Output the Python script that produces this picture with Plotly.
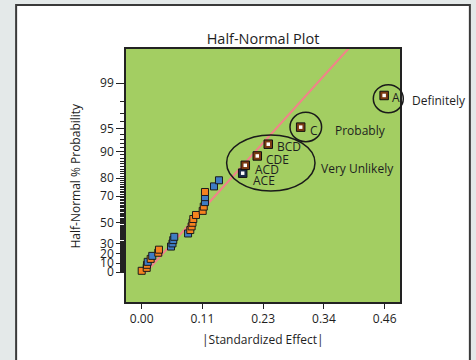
import plotly.graph_objects as go
from statistics import NormalDist

# ---------------- data ----------------
# unlabeled effects: |standardized effect| and half-normal % probability
effect_vals = [0.000, 0.0095, 0.0100, 0.0114, 0.0170, 0.0200, 0.0314, 0.0327,
               0.0555, 0.0583, 0.0598, 0.0617, 0.0878, 0.0920, 0.0945, 0.0962,
               0.0977, 0.1028, 0.1155, 0.1175, 0.1198, 0.1198, 0.1198, 0.1369, 0.1463]
prob_vals = [1.6, 4.8, 8.1, 11.3, 14.5, 17.7, 21.0, 24.2, 27.4, 30.6, 33.9, 37.1,
             40.3, 43.5, 46.8, 50.0, 53.2, 56.5, 59.7, 62.9, 66.1, 69.4, 72.6, 75.8, 79.0]
sign_vals = ["pos", "pos", "pos", "neg", "pos", "neg", "pos", "pos",
             "neg", "neg", "neg", "neg", "neg", "pos", "pos", "pos",
             "pos", "pos", "pos", "pos", "neg", "neg", "pos", "neg", "neg"]

# labeled (significant) terms
term_names = ["ACE", "ACD", "CDE", "BCD", "C", "A"]
term_effects = [0.1912, 0.1961, 0.2188, 0.2396, 0.301, 0.459]
term_probs = [82.3, 85.5, 88.7, 91.9, 95.2, 98.4]
term_signs = ["neg", "pos", "pos", "pos", "pos", "pos"]

# reference line
line_effect = [0.008, 0.397]
line_prob = [0.0, 99.8]

# axis ticks
x_tick_vals = [0.0, 0.115, 0.23, 0.345, 0.46]
x_tick_text = ["0.00", "0.11", "0.23", "0.34", "0.46"]
y_major = [0, 10, 20, 30, 50, 70, 80, 90, 95, 99]

# ---------------- helpers ----------------
nd = NormalDist()


def hn(p):
    """half-normal quantile for a percentage probability"""
    return nd.inv_cdf(0.5 + p / 200.0)


FILL = {"pos": "#f5821f", "neg": "#3f7cc4"}
RING = {"pos": "#7c3a12", "neg": "#1c2d4a"}
TXT = "#1e1e1e"
BG = "#e4e9e9"
FONT = "Open Sans, Noto Sans, sans-serif"

fig = go.Figure()

# reference line
fig.add_trace(go.Scatter(
    x=line_effect, y=[hn(p) for p in line_prob], mode="lines",
    line=dict(color="#f2828a", width=2), hoverinfo="skip"))

# unlabeled effects
fig.add_trace(go.Scatter(
    x=effect_vals, y=[hn(p) for p in prob_vals], mode="markers",
    marker=dict(symbol="square", size=7, color=[FILL[s] for s in sign_vals],
                line=dict(color="#1b1b1b", width=1))))

# labeled effects: outer ring + white center
fig.add_trace(go.Scatter(
    x=term_effects, y=[hn(p) for p in term_probs], mode="markers",
    marker=dict(symbol="square", size=8.5, color=[RING[s] for s in term_signs],
                line=dict(color="#111111", width=1))))
fig.add_trace(go.Scatter(
    x=term_effects, y=[hn(p) for p in term_probs], mode="markers",
    marker=dict(symbol="square", size=3.5, color="white", line=dict(width=0))))

annotations = []
label_offsets = {"A": (6, -2), "C": (7, -3), "BCD": (7, -2),
                 "CDE": (7, -4), "ACD": (8, -4), "ACE": (8, -7)}
for name, ex, pr in zip(term_names, term_effects, term_probs):
    dx, dy = label_offsets[name]
    annotations.append(dict(x=ex, y=hn(pr), xref="x", yref="y", text=name,
                            showarrow=False, xanchor="left", yanchor="middle",
                            xshift=dx, yshift=dy,
                            font=dict(family=FONT, size=12, color=TXT)))

# group labels (paper coordinates so they may sit outside the plot area)
group_labels = [("Definitely", 1.0365, 0.7957), ("Probably", 0.7566, 0.6798),
                ("Very Unlikely", 0.7044, 0.5257)]
for txt, gx, gy in group_labels:
    annotations.append(dict(x=gx, y=gy, xref="paper", yref="paper", text=txt,
                            showarrow=False, xanchor="left", yanchor="middle",
                            font=dict(family=FONT, size=12, color=TXT)))

# axis titles
annotations.append(dict(x=0.5, y=-0.150, xref="paper", yref="paper",
                        text="|Standardized Effect|", showarrow=False,
                        xanchor="center", yanchor="middle",
                        font=dict(family=FONT, size=12, color=TXT)))
annotations.append(dict(x=-0.186, y=0.5, xref="paper", yref="paper",
                        text="Half-Normal % Probability", showarrow=False,
                        textangle=-90, xanchor="center", yanchor="middle",
                        font=dict(family=FONT, size=12, color=TXT)))

shapes = [
    # white panel with dark frame
    dict(type="rect", xref="paper", yref="paper", x0=-0.401, x1=1.255,
         y0=-0.26, y1=1.174, fillcolor="white",
         line=dict(color="#3a3a3a", width=2), layer="below"),
    # green plot area
    dict(type="rect", xref="paper", yref="paper", x0=0, x1=1, y0=0, y1=1,
         fillcolor="#a3ce62", line=dict(width=0), layer="below"),
    # ellipses
    dict(type="circle", xref="paper", yref="paper", x0=0.9026, x1=1.012,
         y0=0.748, y1=0.859, line=dict(color="#1a1a1a", width=1.5)),
    dict(type="circle", xref="paper", yref="paper", x0=0.5985, x1=0.7139,
         y0=0.6336, y1=0.7498, line=dict(color="#1a1a1a", width=1.5)),
    dict(type="circle", xref="paper", yref="paper", x0=0.3672, x1=0.6898,
         y0=0.4387, y1=0.6601, line=dict(color="#1a1a1a", width=1.5)),
]

fig.update_layout(
    width=476, height=360,
    margin=dict(l=126, r=76, t=49, b=58),
    paper_bgcolor=BG, plot_bgcolor="rgba(0,0,0,0)",
    showlegend=False,
    font=dict(family=FONT, size=12, color=TXT),
    title=dict(text="Half-Normal Plot", x=0.5, xref="paper", xanchor="center",
               y=1 - 39 / 360, yref="container", yanchor="middle",
               font=dict(family=FONT, size=14.5, color=TXT)),
    annotations=annotations,
    shapes=shapes,
)

fig.update_xaxes(range=[-0.0297, 0.489], tickmode="array",
                 tickvals=x_tick_vals, ticktext=x_tick_text,
                 ticks="outside", ticklen=5, tickcolor="#222", tickwidth=1,
                 showline=True, linecolor="#222", linewidth=1.5, mirror=True,
                 showgrid=False, zeroline=False,
                 tickfont=dict(family=FONT, size=12, color=TXT))

minor_vals = [hn(p) for p in range(1, 99) if p not in y_major]
fig.update_yaxes(range=[-0.405, 3.042], tickmode="array",
                 tickvals=[hn(p) for p in y_major],
                 ticktext=[str(p) for p in y_major],
                 ticks="outside", ticklen=8, tickcolor="#222", tickwidth=1,
                 minor=dict(tickmode="array", tickvals=minor_vals, ticks="outside",
                            ticklen=4, tickcolor="#222", tickwidth=1),
                 showline=True, linecolor="#222", linewidth=1.5, mirror=True,
                 showgrid=False, zeroline=False,
                 tickfont=dict(family=FONT, size=12, color=TXT))

fig.write_html(
    "out.html",
    config={"displayModeBar": False},
    post_script="document.body.style.margin='0';"
                "document.body.style.background='" + BG + "';",
)
